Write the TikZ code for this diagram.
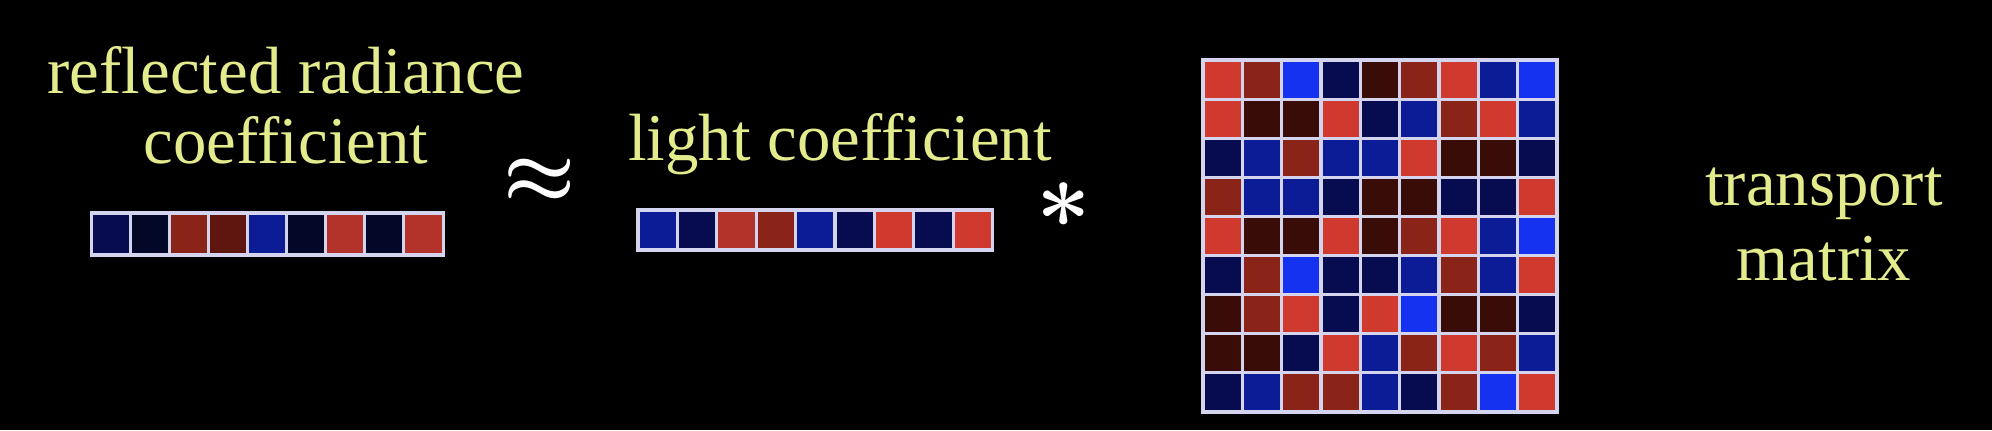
\documentclass[tikz,border=0pt]{standalone}
\usepackage{fontspec}
\setmainfont{Liberation Serif}
\usepackage{xcolor}
\definecolor{lbltext}{HTML}{E3EB8C}
\definecolor{gridline}{HTML}{D4D4EE}
\definecolor{cR}{HTML}{D03A2E}
\definecolor{cS}{HTML}{B3322A}
\definecolor{cM}{HTML}{8A2418}
\definecolor{cW}{HTML}{5E160E}
\definecolor{cD}{HTML}{3A0C08}
\definecolor{cB}{HTML}{1432F0}
\definecolor{cN}{HTML}{0C1C96}
\definecolor{cK}{HTML}{070B50}
\definecolor{cE}{HTML}{040828}
\usepackage{tikz}
\usetikzlibrary{positioning}
\tikzset{
  cell/.style   ={draw=gridline,line width=0.9pt,inner sep=0pt,outer sep=0pt,
                  minimum width=3.93mm,minimum height=3.91mm},
  vcell/.style  ={cell,minimum width=3.92mm,minimum height=4.1mm},
  lbl/.style    ={text=lbltext,anchor=base,inner sep=0pt,
                  font=\fontsize{19}{20}\selectfont},
  sym/.style    ={text=white,inner sep=0pt,font=\mathversion{bold}},
}

\begin{document}
\begin{tikzpicture}[x=0.01cm,y=-0.01cm]
\fill[black] (0,0) rectangle (1992,430);
% labels
\node[lbl] (refl1) at (286,93) {reflected radiance};
\node[lbl] (refl2) at (286,163) {coefficient};
\node[lbl] (light) at (840,160) {light coefficient};
\node[lbl] (trans1) at (1824,205) {transport};
\node[lbl] (trans2) at (1824,280) {matrix};
% operators
\node[sym,scale=2.3] (approx) at (540,181) {$\approx$};
\node[sym,scale=2.7] (times) at (1064,205) {$\ast$};
% reflected radiance vector
\foreach \clr [count=\k] in {K,E,M,W,N,E,S,E,S}
  \node[vcell,minimum height=4.2mm,fill=c\clr] (r-\k) at ({92+39*(\k-0.5)},234) {};
% light vector
\foreach \clr [count=\k] in {N,K,S,M,N,K,R,K,R}
  \node[vcell,minimum width=3.94mm,minimum height=4.0mm,fill=c\clr] (l-\k) at ({638+39.4*(\k-0.5)},230) {};
% transport matrix
\foreach \row [count=\r] in {{R,M,B,K,D,M,R,N,B},{R,D,D,R,K,N,M,R,N},
    {K,N,M,N,N,R,D,D,K},{M,N,N,K,D,D,K,K,R},{R,D,D,R,D,M,R,N,B},
    {K,M,B,K,K,N,M,N,R},{D,M,R,K,R,B,D,D,K},{D,D,K,R,N,M,R,M,N},
    {K,N,M,M,N,K,M,B,R}}
  \foreach \clr [count=\k] in \row
    \node[cell,fill=c\clr] (t-\r-\k) at ({1203+39.33*(\k-0.5)},{60+39.11*(\r-0.5)}) {};
\end{tikzpicture}
\end{document}
